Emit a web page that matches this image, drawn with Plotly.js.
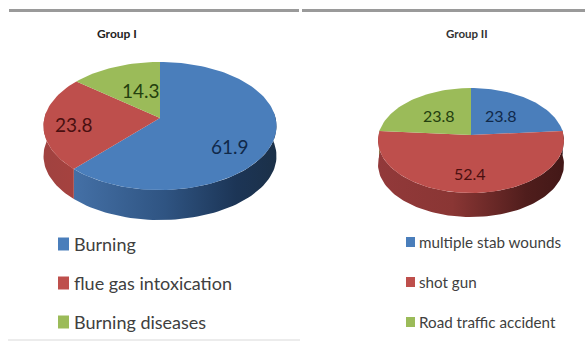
<!DOCTYPE html>
<html>
<head>
<meta charset="utf-8">
<script src="https://cdn.plot.ly/plotly-3.0.1.min.js"></script>
<style>html,body{margin:0;padding:0;background:#fff}#chart{width:585px;height:341px}</style>
</head>
<body>
<div id="chart"></div>
<script>
// Cause-of-death shares for each group, clockwise from twelve o'clock
const groupOneCauses = ["Burning", "flue gas intoxication", "Burning diseases"];
const groupOneValues = [61.9, 23.8, 14.3];
const groupTwoCauses = ["multiple stab wounds", "shot gun", "Road traffic accident"];
const groupTwoValues = [23.8, 52.4, 23.8];
const groupTitles = ["Group I", "Group II"];

const sliceColors = ["#4a7ebb", "#be4f4c", "#9bbb59"];
const labelColors = ["#10294a", "#4a0f10", "#24400f"];
const FONT = "Lato, 'Open Sans', sans-serif";

// Side walls per disc and slice, shaded left to right
const wallShadesOne = [
  [[0, "#4470a6"], [0.45, "#2f5482"], [0.8, "#1c3556"], [1, "#1b3048"]],
  [[0, "#a04240"], [1, "#a5423f"]],
  [[0, "#83a04b"], [1, "#50632b"]]
];
const wallShadesTwo = [
  [[0, "#2f5482"], [1, "#1b3048"]],
  [[0, "#92393a"], [0.4, "#8a3634"], [0.8, "#4f1d1c"], [1, "#431817"]],
  [[0, "#83a04b"], [1, "#50632b"]]
];

// Tilted-disc geometry in screen pixels
const discOne = {cx: 160, cy: 126, rx: 116.5, ry: 64, hubY: 118, depth: 30};
const discTwo = {cx: 471, cy: 140.5, rx: 93, ry: 52.5, hubY: 135, depth: 24};

const RAD = Math.PI / 180;

// Where a ray leaving the off-centre hub at a given clockwise angle meets the rim
function rimPoint(d, deg) {
  const dx = Math.sin(deg * RAD), dy = -Math.cos(deg * RAD);
  const off = (d.hubY - d.cy) / d.ry;
  const b = dy * off;
  const t = -b + Math.sqrt(b * b - (off * off - 1));
  return [d.cx + t * dx * d.rx, d.hubY + t * dy * d.ry];
}

function arc(d, from, to) {
  const pts = [];
  const n = Math.max(2, Math.ceil((to - from) / 2));
  for (let i = 0; i <= n; i++) pts.push(rimPoint(d, from + (to - from) * i / n));
  return pts;
}

function discTraces(d, values, names, shades) {
  const total = values.reduce((a, b) => a + b, 0);
  const walls = [], faces = [];
  let start = 0;
  values.forEach((v, i) => {
    const end = start + v / total * 360;
    // Only the part of the rim nearest the viewer shows a wall
    const a = Math.max(start, 84), b = Math.min(end, 276);
    if (b > a) {
      const rim = arc(d, a, b);
      const low = rim.map(p => [p[0], p[1] + d.depth]).reverse();
      const loop = rim.concat(low, [rim[0]]);
      walls.push({
        type: "scatter", mode: "lines", hoverinfo: "skip",
        x: loop.map(p => p[0]), y: loop.map(p => p[1]),
        line: {width: 0}, fill: "toself",
        fillgradient: {type: "horizontal", colorscale: shades[i]}
      });
    }
    const rim = arc(d, start, end);
    const loop = [[d.cx, d.hubY]].concat(rim, [[d.cx, d.hubY]]);
    faces.push({
      type: "scatter", mode: "lines",
      x: loop.map(p => p[0]), y: loop.map(p => p[1]),
      line: {width: 0}, fill: "toself", fillcolor: sliceColors[i],
      name: names[i], text: names[i] + ": " + v, hoverinfo: "text"
    });
    start = end;
  });
  return walls.concat(faces);
}

const traces = discTraces(discOne, groupOneValues, groupOneCauses, wallShadesOne)
  .concat(discTraces(discTwo, groupTwoValues, groupTwoCauses, wallShadesTwo));

function note(text, x, y, size, color, anchor) {
  return {
    text: text, x: x, y: y, xref: "x", yref: "y", showarrow: false,
    xanchor: anchor || "center", yanchor: "middle",
    font: {family: FONT, size: size, color: color}
  };
}

const valueSpotsOne = [[230, 146], [74, 124], [141, 90]];
const valueSpotsTwo = [[501, 115], [470, 173], [439, 115]];
const keyRowsOne = [244, 283, 322];
const keyRowsTwo = [242, 282, 322];

const annotations = [
  note("<b>" + groupTitles[0] + "</b>", 117, 33, 12, "#222"),
  note("<b>" + groupTitles[1] + "</b>", 467, 33, 11.5, "#333")
];
groupOneValues.forEach((v, i) => annotations.push(
  note(v.toFixed(1), valueSpotsOne[i][0], valueSpotsOne[i][1], 19, labelColors[i])));
groupTwoValues.forEach((v, i) => annotations.push(
  note(v.toFixed(1), valueSpotsTwo[i][0], valueSpotsTwo[i][1], 16, labelColors[i])));
groupOneCauses.forEach((c, i) => annotations.push(
  note(c, 72, keyRowsOne[i], 18, "#404040", "left")));
groupTwoCauses.forEach((c, i) => annotations.push(
  note(c, 417, keyRowsTwo[i], 15.2, "#404040", "left")));

function rect(x0, x1, y0, y1, color) {
  return {type: "rect", xref: "x", yref: "y", x0, x1, y0, y1, fillcolor: color, line: {width: 0}};
}

const shapes = [
  rect(9, 299, 9, 12, "#9a9a9a"),
  rect(302, 585, 9, 12, "#9a9a9a"),
  rect(8, 300, 339, 341, "#ececec")
];
sliceColors.forEach((c, i) => {
  shapes.push(rect(58, 69, keyRowsOne[i] - 6.5, keyRowsOne[i] + 6.5, c));
  shapes.push(rect(406, 415, keyRowsTwo[i] - 5, keyRowsTwo[i] + 5, c));
});

const layout = {
  width: 585, height: 341,
  margin: {l: 0, r: 0, t: 0, b: 0},
  paper_bgcolor: "#ffffff", plot_bgcolor: "#ffffff",
  showlegend: false,
  xaxis: {range: [0, 585], visible: false, fixedrange: true},
  yaxis: {range: [341, 0], visible: false, fixedrange: true},
  annotations: annotations,
  shapes: shapes
};

Plotly.newPlot("chart", traces, layout, {displayModeBar: false, staticPlot: true});
</script>
</body>
</html>
